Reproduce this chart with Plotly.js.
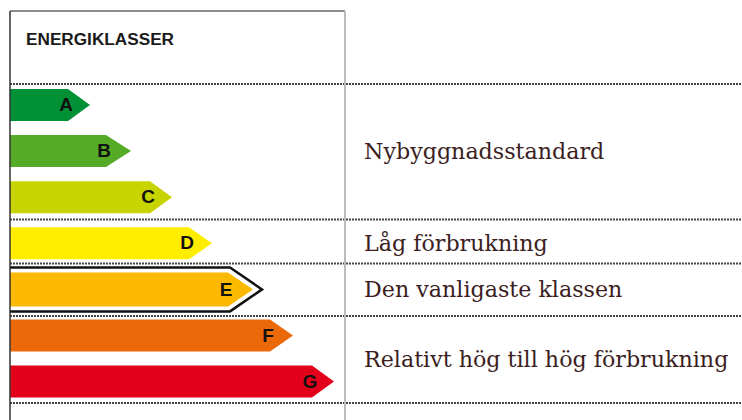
<!DOCTYPE html>
<html>
<head>
<meta charset="utf-8">
<script src="https://cdn.plot.ly/plotly-3.0.1.min.js"></script>
<style>html,body{margin:0;padding:0;background:#fff;}#chart{width:742px;height:420px;}</style>
</head>
<body>
<div id="chart"></div>
<script>
// ---- data ----
const classes = ['A', 'B', 'C', 'D', 'E', 'F', 'G'];
const bodyEnd = [68, 106, 150, 189, 228, 270, 312];
const tipEnd = [90, 131, 172, 212, 253, 293, 334];
const classColors = ['#009036', '#55AB26', '#C8D400', '#FFED00', '#FBBA00', '#EB6909', '#E2001A'];
const highlighted = 'E';
const groupLabels = ['Nybyggnadsstandard', 'Låg förbrukning', 'Den vanligaste klassen', 'Relativt hög till hög förbrukning'];
const groupCenters = [1, 3, 4, 5.5];
const dividerY = [-0.456, 2.484, 3.438, 4.577, 6.464];
const chartTitle = 'ENERGIKLASSER';

// ---- geometry helpers ----
const PX = 46.1;            // pixels per class row
const x0 = 10;
const halfH = 16 / PX;

const traces = [];
classes.forEach((c, i) => {
  const h = c === highlighted ? 17 / PX : halfH;
  traces.push({
    type: 'scatter', mode: 'lines', fill: 'toself',
    x: [x0, bodyEnd[i], tipEnd[i], bodyEnd[i], x0, x0],
    y: [i - h, i - h, i, i + h, i + h, i - h],
    fillcolor: classColors[i], line: {width: 0, color: classColors[i]},
    hoverinfo: 'skip', showlegend: false
  });
  if (c === highlighted) {
    const oh = 22 / PX;
    traces.push({
      type: 'scatter', mode: 'lines',
      x: [x0, bodyEnd[i] + 2, tipEnd[i] + 9, bodyEnd[i] + 2, x0],
      y: [i - oh, i - oh, i, i + oh, i + oh],
      line: {width: 2.5, color: '#111'},
      hoverinfo: 'skip', showlegend: false
    });
  }
});
traces.push({
  type: 'scatter', mode: 'text',
  x: bodyEnd.map(b => b - 2), y: classes.map((c, i) => i + 0.03),
  text: classes, textposition: 'middle center',
  textfont: {family: 'Liberation Sans, Arial, sans-serif', size: 19, color: '#111', weight: 'bold'},
  hoverinfo: 'skip', showlegend: false
});

const shapes = [];
dividerY.forEach(y => shapes.push({
  type: 'line', xref: 'x', yref: 'y', x0: x0, x1: 742, y0: y, y1: y,
  line: {color: '#444', width: 2, dash: '2px,1px'}
}));
shapes.push({type: 'line', xref: 'x', yref: 'paper', x0: x0, x1: 345, y0: 1 - 11/420, y1: 1 - 11/420, line: {color: '#666', width: 1.5}});
shapes.push({type: 'line', xref: 'x', yref: 'paper', x0: x0, x1: x0, y0: 0, y1: 1 - 11/420, line: {color: '#333', width: 1.5}});
shapes.push({type: 'line', xref: 'x', yref: 'paper', x0: 345, x1: 345, y0: 0, y1: 1 - 11/420, line: {color: '#bbb', width: 2}});

const annotations = groupLabels.map((t, k) => ({
  text: t, x: 362, y: groupCenters[k], xref: 'x', yref: 'y',
  xanchor: 'left', yanchor: 'middle', showarrow: false,
  font: {family: 'DejaVu Serif, serif', size: 22.2, color: '#3c1e1e'}
}));
annotations.push({
  text: chartTitle, x: 24, y: 1 - 39/420, xref: 'x', yref: 'paper',
  xanchor: 'left', yanchor: 'middle', showarrow: false,
  font: {family: 'Liberation Sans, Arial, sans-serif', size: 17.2, color: '#1a1a1a', weight: 'bold'}
});

const layout = {
  width: 742, height: 420,
  margin: {l: 0, r: 0, t: 0, b: 0},
  paper_bgcolor: '#fff', plot_bgcolor: '#fff',
  xaxis: {range: [0, 742], visible: false, fixedrange: true},
  yaxis: {range: [(420 - 105) / PX, -105 / PX], visible: false, fixedrange: true},
  shapes: shapes, annotations: annotations, showlegend: false
};
Plotly.newPlot('chart', traces, layout, {displayModeBar: false, staticPlot: true});
</script>
</body>
</html>
